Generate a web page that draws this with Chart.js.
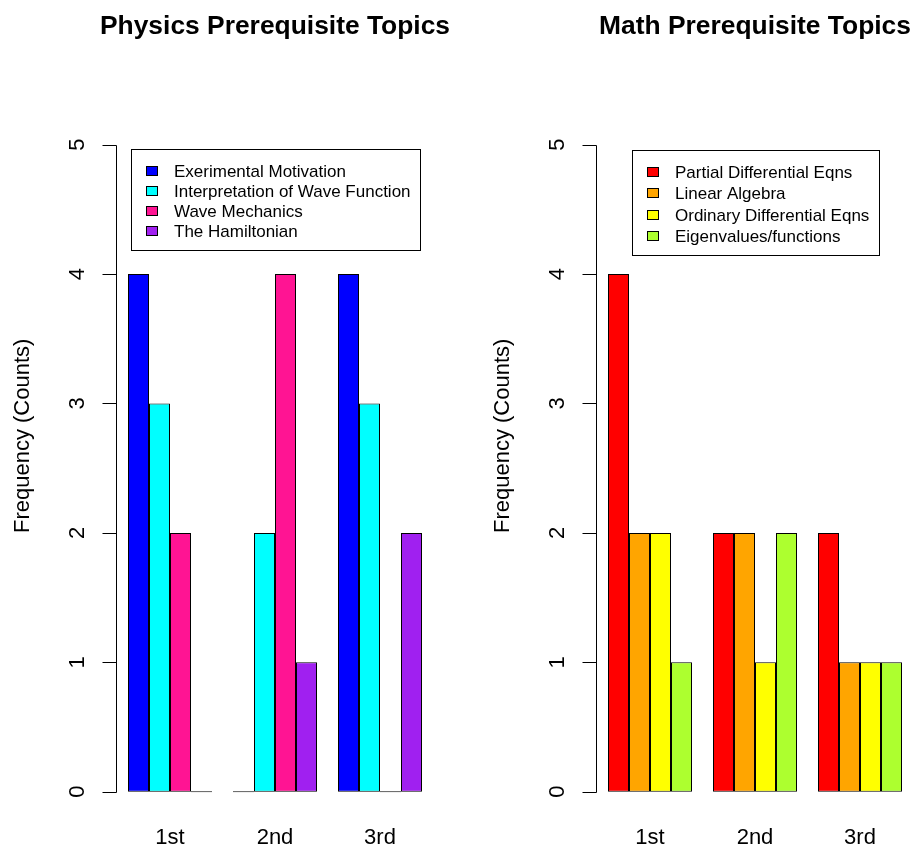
<!DOCTYPE html>
<html>
<head>
<meta charset="utf-8">
<title>Prerequisite Topics</title>
<script src="https://cdn.jsdelivr.net/npm/chart.js@4.4.1/dist/chart.umd.min.js"></script>
<style>
  html, body { margin: 0; padding: 0; background: #fff; }
  #wrap { position: relative; width: 913px; height: 844px; overflow: hidden; }
  canvas { position: absolute; top: 0; }
  #physics { left: 0; }
  #math { left: 480px; }
</style>
</head>
<body>
<div id="wrap">
  <canvas id="physics" width="480" height="844"></canvas>
  <canvas id="math" width="480" height="844"></canvas>
</div>
<script>
// data
const rounds = ['1st', '2nd', '3rd'];

const physicsTopics = ['Exerimental Motivation', 'Interpretation of Wave Function', 'Wave Mechanics', 'The Hamiltonian'];
const expMotivation = [4, 0, 4];
const waveFunction = [3, 2, 3];
const waveMechanics = [2, 4, 0];
const hamiltonian = [0, 1, 2];

const mathTopics = ['Partial Differential Eqns', 'Linear Algebra', 'Ordinary Differential Eqns', 'Eigenvalues/functions'];
const partialDE = [4, 2, 2];
const linearAlgebra = [2, 2, 1];
const ordinaryDE = [2, 1, 1];
const eigen = [1, 2, 1];

const yTicks = [0, 1, 2, 3, 4, 5];

// colours (R names: blue, cyan, deeppink, purple / red, orange, yellow, greenyellow)
const physicsColors = ['#0000FF', '#00FFFF', '#FF1493', '#A020F0'];
const mathColors = ['#FF0000', '#FFA500', '#FFFF00', '#ADFF2F'];

const family = '"Liberation Sans", Arial, Helvetica, sans-serif';

//main title centred over the plot area (the built-in one squeezes it)
const mainTitle = {
    id: 'mainTitle',
    afterDraw: (chart, args, opts) => {
        const { ctx, chartArea } = chart;
        ctx.save();
        ctx.font = 'bold 26.4px ' + family;
        ctx.fillStyle = '#000';
        ctx.textAlign = 'center';
        ctx.textBaseline = 'alphabetic';
        ctx.fillText(opts.text, (chartArea.left + chartArea.right) / 2, 33.5);
        ctx.restore();
    }
};

//R style y axis: line only from first to last tick, outward ticks, labels turned
const rAxis = {
    id: 'rAxis',
    afterDraw: (chart) => {
        const { ctx, chartArea, scales: { y } } = chart;
        const x0 = Math.floor(chartArea.left) - 0.5;
        const top = Math.round(y.getPixelForValue(yTicks[yTicks.length - 1])) + 0.5;
        const bot = Math.round(y.getPixelForValue(yTicks[0])) + 0.5;
        ctx.save();
        ctx.strokeStyle = '#000';
        ctx.lineWidth = 1;
        ctx.beginPath();
        ctx.moveTo(x0, bot);
        ctx.lineTo(x0, top);
        yTicks.forEach(v => {
            const py = Math.round(y.getPixelForValue(v)) + 0.5;
            ctx.moveTo(x0 - 14, py);
            ctx.lineTo(x0, py);
        });
        ctx.stroke();
        ctx.font = '22px ' + family;
        ctx.fillStyle = '#000';
        ctx.textAlign = 'center';
        ctx.textBaseline = 'alphabetic';
        yTicks.forEach(v => {
            ctx.save();
            ctx.translate(x0 - 33, y.getPixelForValue(v));
            ctx.rotate(-Math.PI / 2);
            ctx.fillText(String(v), 0, 0);
            ctx.restore();
        });
        ctx.restore();
    }
};

//boxed legend, centred over the plot
const boxLegend = {
    id: 'boxLegend',
    afterDraw: (chart, args, opts) => {
        const { ctx, chartArea } = chart;
        const sets = chart.data.datasets;
        ctx.save();
        ctx.font = '17px ' + family;
        const textW = Math.max(...sets.map(d => ctx.measureText(d.label).width));
        const w = Math.round(43 + textW + 9.5);
        const h = Math.round(41 + 3 * opts.rowH);
        const left = Math.round((chartArea.left + chartArea.right) / 2 - w / 2) + 0.5;
        const top = opts.top + 0.5;
        ctx.strokeStyle = '#000';
        ctx.lineWidth = 1;
        ctx.strokeRect(left, top, w, h);
        ctx.textAlign = 'left';
        ctx.textBaseline = 'middle';
        sets.forEach((d, i) => {
            const cy = Math.round(top + 21.5 + i * opts.rowH);
            ctx.fillStyle = d.backgroundColor;
            ctx.fillRect(left + 15, cy - 4.5, 11, 9);
            ctx.strokeRect(left + 15, cy - 4.5, 11, 9);
            ctx.fillStyle = '#000';
            ctx.fillText(d.label, left + 42.5, cy + 1);
        });
        ctx.restore();
    }
};

const makeChart = (id, title, topics, colors, series, legendOpts) => new Chart(document.getElementById(id), {
    type: 'bar',
    data: {
        labels: rounds,
        datasets: series.map((values, i) => ({
            label: topics[i],
            data: values,
            backgroundColor: colors[i],
            borderColor: '#000',
            borderWidth: 1,
            borderSkipped: false,
            minBarLength: 1,  //zero counts still show as a flat bar
            barPercentage: 1,
            categoryPercentage: 0.8,
        })),
    },
    options: {
        responsive: false,
        animation: false,
        events: [],
        layout: { padding: { left: 0, right: 47.5, top: 51.5, bottom: 0 } },
        scales: {
            x: {
                grid: { display: false },
                border: { display: false },
                ticks: { color: '#000', font: { family, size: 22 }, padding: -3, autoSkip: false, maxRotation: 0 },
                afterFit: (s) => { s.height = 23.8; },
            },
            y: {
                min: -0.22,
                max: 5.72,
                grid: { display: false },
                border: { display: false },
                ticks: { display: false, stepSize: 1, includeBounds: false },
                title: {
                    display: true,
                    text: 'Frequency (Counts)',
                    color: '#000',
                    font: { family, size: 22 },
                    padding: { top: 9.8, bottom: 0 },
                },
                afterFit: (s) => { s.width = 117.5; },
            },
        },
        plugins: {
            legend: { display: false },
            tooltip: { enabled: false },
            title: { display: false },
            mainTitle: { text: title },
            boxLegend: legendOpts,
        },
    },
    plugins: [mainTitle, rAxis, boxLegend],
});

makeChart('physics', 'Physics Prerequisite Topics', physicsTopics, physicsColors,
    [expMotivation, waveFunction, waveMechanics, hamiltonian], { top: 149, rowH: 20 });
makeChart('math', 'Math Prerequisite Topics', mathTopics, mathColors,
    [partialDE, linearAlgebra, ordinaryDE, eigen], { top: 150, rowH: 21.3 });
</script>
</body>
</html>
